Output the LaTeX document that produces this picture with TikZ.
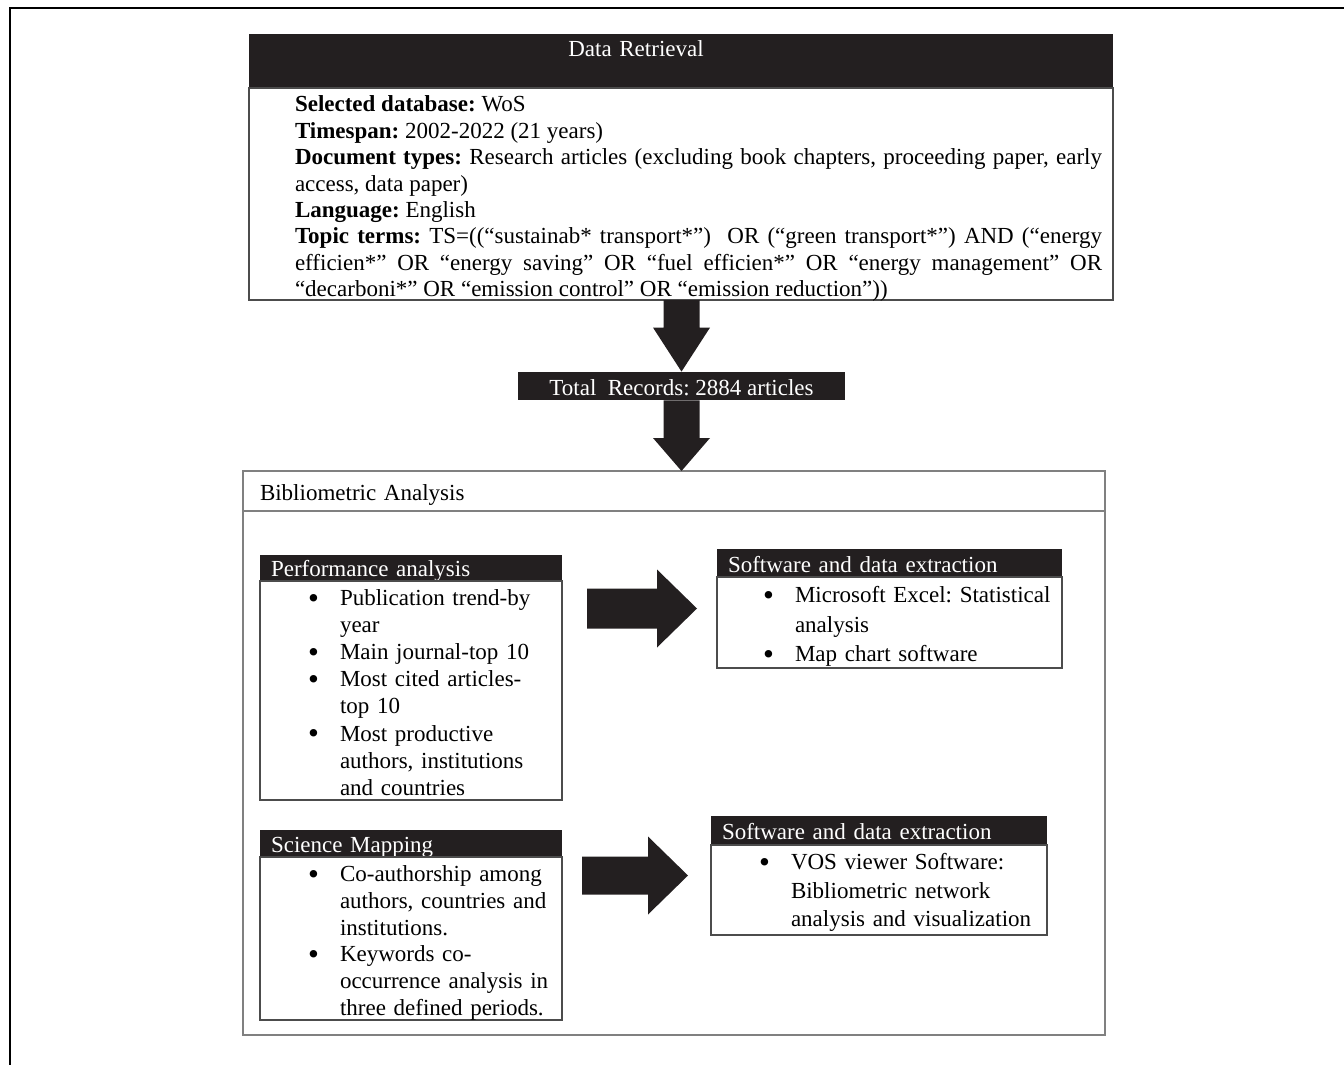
\documentclass[tikz,border=0pt]{standalone}
\usepackage{fontspec}
\setmainfont{Liberation Serif}
\usetikzlibrary{positioning,calc}
\definecolor{darkfill}{HTML}{231F20}
\definecolor{linegray}{gray}{0.3}
\frenchspacing
% bullet item with hanging indent
\newcommand\itm[1]{\hangindent=16pt\hangafter=1\noindent
  \makebox[16pt][l]{\raisebox{-1.3pt}[0pt][0pt]{\scalebox{1.35}{\textbullet}}}#1\par}

\begin{document}
\begin{tikzpicture}[x=1pt, y=-1pt,
  font=\fontsize{11.5}{13.4}\selectfont,
    hd/.style = {anchor=north west, fill=darkfill, text=white,% black title bands
                 inner xsep=5.5pt, inner ysep=0pt, outer sep=0pt, align=left},
    bd/.style = {anchor=north west, draw=linegray, line width=0.6pt,% framed bodies
                 inner sep=0pt, outer sep=0pt, align=left},
   blk/.style = {fill=darkfill},
                   ]
\useasboundingbox (0,0) rectangle (672,532.5);
\draw[line width=1.2pt] (5,532.5) -- (5,4) -- (672,4);

% data retrieval
\node[hd, text width=432pt, inner xsep=0pt, align=center,
      text height=11.3pt, text depth=15.7pt] (drhd) at (124.5,17)
     {Data Retrieval\hspace*{45pt}};
\node[bd, text width=432pt, text height=12pt, text depth=94pt, align=justify,
      font=\fontsize{11.5}{13.2}\selectfont] (dr) at (drhd.south west)
     {\leftskip=23pt \rightskip=5.5pt
      \textbf{Selected database:} WoS\par
      \textbf{Timespan:} 2002-2022 (21 years)\par
      \textbf{Document types:} Research articles (excluding book chapters, proceeding paper, early\linebreak
      access, data paper)\par
      \textbf{Language:} English\par
      \textbf{Topic terms:} TS=((“sustainab* transport*”)\ \ OR (“green transport*”) AND (“energy\linebreak
      efficien*” OR “energy saving” OR “fuel efficien*” OR “energy management” OR\linebreak
      “decarboni*” OR “emission control” OR “emission reduction”))\par};

\node[fill=darkfill, text=white, minimum width=163.5pt, inner sep=0pt,
      text height=11.5pt, text depth=2.5pt] (tot) at (340.75,193) {Total\ \ Records: 2884 articles};

% bibliometric frame
\node[bd, draw=black!50, line width=0.8pt, inner xsep=8.5pt, text width=414pt,
      text height=14.5pt, text depth=5.5pt] (bibhd) at (121.5,235.5) {Bibliometric Analysis};
\node[bd, draw=black!50, line width=0.8pt, minimum width=431pt,
      minimum height=262pt] (bib) at (bibhd.south west) {};

% down arrows
\coordinate (tip2) at (tot.south |- bibhd.north);
\fill[blk] ($(tot.north |- dr.south)+(-9,0)$) -- ($(tot.north)+(-9,-22)$) -- ($(tot.north)+(-14.25,-22)$)
  -- (tot.north) -- ($(tot.north)+(14.25,-22)$) -- ($(tot.north)+(9,-22)$) -- ($(tot.north |- dr.south)+(9,0)$) -- cycle;
\fill[blk] ($(tot.south)+(-9,0)$) -- ($(tip2)+(-9,-16.5)$) -- ($(tip2)+(-14.25,-16.5)$)
  -- (tip2) -- ($(tip2)+(14.25,-16.5)$) -- ($(tip2)+(9,-16.5)$) -- ($(tot.south)+(9,0)$) -- cycle;

% performance analysis
\node[hd, text width=140pt, text height=10.8pt, text depth=2.2pt] (perfhd) at (130,277.5) {Performance analysis};
\node[bd, text width=151pt, text height=12.25pt, text depth=97.25pt,
      font=\fontsize{11.5}{13.55}\selectfont] (perf) at (perfhd.south west)
     {\leftskip=24pt
      \itm{Publication trend-by\newline year}
      \itm{Main journal-top 10}
      \itm{Most cited articles-\newline top 10}
      \itm{Most productive\newline authors, institutions\newline and countries}};

\node[hd, text width=161.5pt, text height=11.5pt, text depth=2.5pt] (soft1hd) at (358.5,274.5) {Software and data extraction};
\node[bd, text width=172.5pt, text height=12.75pt, text depth=32.75pt, font=\fontsize{11.5}{14.75}\selectfont]
     (soft1) at (soft1hd.south west)
     {\leftskip=23pt
      \itm{Microsoft Excel: Statistical\newline analysis}
      \itm{Map chart software}};

% science mapping
\node[hd, text width=140pt, text height=11.3pt, text depth=2.2pt] (scihd) at (130,415) {Science Mapping};
\node[bd, text width=151pt, text height=12.25pt, text depth=69.25pt] (sci) at (scihd.south west)
     {\leftskip=24pt
      \itm{Co-authorship among\newline authors, countries and\newline institutions.}
      \itm{Keywords co-\newline occurrence analysis in\newline three defined periods.}};

\node[hd, text width=157pt, text height=11.5pt, text depth=3pt] (soft2hd) at (355.5,408) {Software and data extraction};
\node[bd, text width=168pt, text height=12.25pt, text depth=32.75pt, font=\fontsize{11.5}{14.25}\selectfont]
     (soft2) at (soft2hd.south west)
     {\leftskip=24pt
      \itm{VOS viewer Software:\newline Bibliometric network\newline analysis and visualization}};

% right arrows
\coordinate (t1) at ($(soft1hd.north west)!.5!(soft1.south west)+(-10,0)$);
\coordinate (s1) at ($(perf.east |- t1)+(12.5,0)$);
\fill[blk] ($(s1)+(0,-10)$) -- ($(t1)+(-20,-10)$) -- ($(t1)+(-20,-19.5)$) -- (t1)
  -- ($(t1)+(-20,19.5)$) -- ($(t1)+(-20,10)$) -- ($(s1)+(0,10)$) -- cycle;
\coordinate (t2) at ($(soft2hd.north west)!.5!(soft2.south west)+(-11.5,0)$);
\coordinate (s2) at ($(sci.east |- t2)+(10,0)$);
\fill[blk] ($(s2)+(0,-9.5)$) -- ($(t2)+(-20,-9.5)$) -- ($(t2)+(-20,-19.5)$) -- (t2)
  -- ($(t2)+(-20,19.5)$) -- ($(t2)+(-20,9.5)$) -- ($(s2)+(0,9.5)$) -- cycle;
\end{tikzpicture}
\end{document}
